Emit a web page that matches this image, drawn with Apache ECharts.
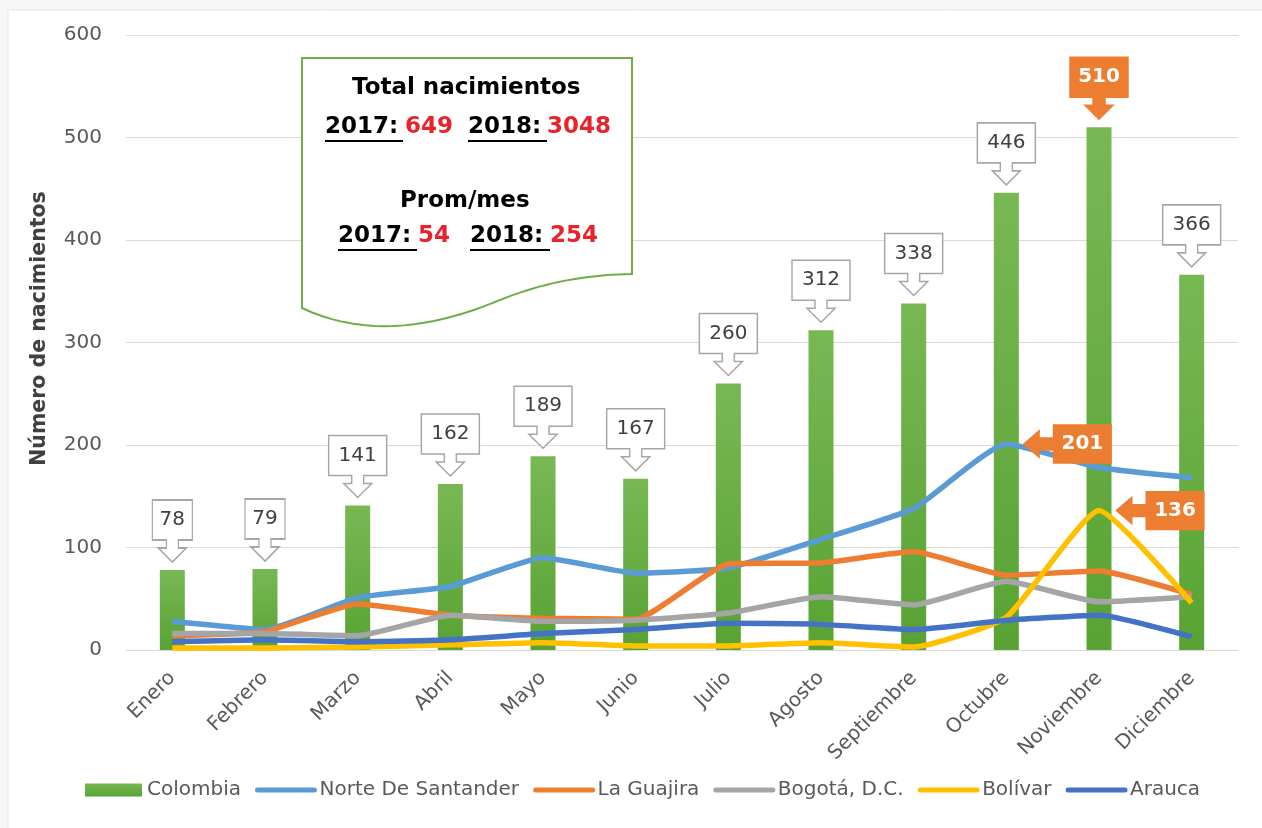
<!DOCTYPE html>
<html>
<head>
<meta charset="utf-8">
<script src="https://cdn.jsdelivr.net/npm/echarts@6/dist/echarts.min.js"></script>
<style>
  html, body { margin: 0; padding: 0; background: #f7f7f7; }
  #main { width: 1262px; height: 828px; }
</style>
</head>
<body>
<div id="main"></div>
<script>
const months = ['Enero', 'Febrero', 'Marzo', 'Abril', 'Mayo', 'Junio', 'Julio',
  'Agosto', 'Septiembre', 'Octubre', 'Noviembre', 'Diciembre'];
const colombia = [78, 79, 141, 162, 189, 167, 260, 312, 338, 446, 510, 366];
const norteSantander = [28, 20, 51, 62, 90, 75, 80, 108, 138, 201, 178, 168];
const laGuajira = [14, 18, 45, 34, 31, 30, 84, 85, 96, 73, 77, 54];
const bogota = [16, 16, 14, 34, 28, 29, 36, 52, 44, 67, 47, 52];
const bolivar = [2, 2, 3, 5, 7, 4, 4, 7, 3, 32, 136, 46];
const arauca = [8, 10, 8, 10, 16, 20, 26, 25, 20, 29, 34, 13];
const yTicks = { min: 0, max: 600, interval: 100 };

const FONT = 'DejaVu Sans';
const txtGray = '#595959';

// callout shapes
const downSmall = 'path://M0,0H40V40H26V48H34L20,62L6,48H14V40H0Z';
const downBig = 'path://M0,0H58V40H35V48H43L29,62L15,48H23V40H0Z';
const leftBox = 'path://M30,0H86V38H30V25H14V31L0,19L14,7V13H30Z';

const maxIdx = colombia.indexOf(Math.max(...colombia));
const barCallouts = colombia.map((v, i) => {
  const small = v < 100;
  const item = {
    coord: [months[i], v],
    value: v,
    symbol: small ? downSmall : downBig,
    symbolSize: small ? [40, 62] : [58, 62],
    symbolOffset: [0, -39],
  };
  if (i === maxIdx) {
    item.itemStyle = { color: '#ED7D31', borderColor: '#ED7D31' };
    item.label = { color: '#fff', fontWeight: 'bold' };
  }
  return item;
});

function orangeLeft() {
  return {
    symbol: leftBox,
    symbolSize: [86, 38],
    symbolOffset: [61, 0],
    itemStyle: { color: '#ED7D31', borderColor: '#ED7D31' },
    label: {
      show: true, position: 'inside', offset: [15, 0],
      color: '#fff', fontWeight: 'bold', fontSize: 20, fontFamily: FONT,
    },
    data: [{ type: 'max' }],
  };
}

function lineSeries(name, data, color, extra) {
  return Object.assign({
    name: name,
    type: 'line',
    data: data,
    smooth: 0.15,
    symbol: 'none',
    lineStyle: { width: 5.5, color: color },
    itemStyle: { color: color },
  }, extra || {});
}

function lineLegend(name) {
  return { name: name, itemStyle: { opacity: 0 }, lineStyle: { width: 5, cap: 'round' } };
}

// outline of the note box (wavy bottom edge)
function bez(p0, p1, p2, p3, n) {
  const pts = [];
  for (let k = 0; k <= n; k++) {
    const t = k / n, u = 1 - t;
    pts.push([
      u * u * u * p0[0] + 3 * u * u * t * p1[0] + 3 * u * t * t * p2[0] + t * t * t * p3[0],
      u * u * u * p0[1] + 3 * u * u * t * p1[1] + 3 * u * t * t * p2[1] + t * t * t * p3[1],
    ]);
  }
  return pts;
}
const notePoints = [[302, 58], [632, 58]]
  .concat(bez([632, 274], [585, 275], [545, 282], [500, 300], 20))
  .concat(bez([500, 300], [440, 325], [370, 340], [302, 308], 20));

const boldFont = 'bold 23px "DejaVu Sans"';
function noteText(x, y, text, fill) {
  return { type: 'text', z: 51, silent: true, x: x, y: y, style: { text: text, fill: fill, font: boldFont } };
}
function underline(x1, x2, y) {
  return { type: 'line', z: 51, silent: true, shape: { x1: x1, y1: y, x2: x2, y2: y }, style: { stroke: '#000', lineWidth: 2 } };
}

const chart = echarts.init(document.getElementById('main'));

const option = {
  animation: false,
  backgroundColor: '#f7f7f7',
  grid: { left: 126, right: 24, top: 35, bottom: 178 },
  legend: {
    left: 80,
    bottom: 23,
    itemWidth: 57,
    itemHeight: 13,
    itemGap: 14,
    textStyle: { color: txtGray, fontSize: 20, fontFamily: FONT },
    data: [
      { name: 'Colombia', icon: 'rect' },
      lineLegend('Norte De Santander'),
      lineLegend('La Guajira'),
      lineLegend('Bogotá, D.C.'),
      lineLegend('Bolívar'),
      lineLegend('Arauca'),
    ],
  },
  xAxis: {
    type: 'category',
    data: months,
    axisLine: { lineStyle: { color: '#D9D9D9', width: 1 } },
    axisTick: { show: false },
    axisLabel: {
      rotate: 45, margin: 25, color: txtGray, fontSize: 20, fontFamily: FONT,
    },
  },
  yAxis: {
    type: 'value',
    min: yTicks.min,
    max: yTicks.max,
    interval: yTicks.interval,
    name: 'Número de nacimientos',
    nameLocation: 'middle',
    nameGap: 76,
    nameTextStyle: {
      color: '#404040', fontSize: 20.5, fontWeight: 'bold', fontFamily: FONT,
      padding: [0, 0, 0, 28],
    },
    axisLine: { show: false },
    axisTick: { show: false },
    axisLabel: { margin: 24, color: txtGray, fontSize: 20, fontFamily: FONT },
    splitLine: { lineStyle: { color: '#D9D9D9', width: 1 } },
  },
  series: [
    {
      name: 'Colombia',
      type: 'bar',
      data: colombia,
      barWidth: 25,
      itemStyle: {
        color: new echarts.graphic.LinearGradient(0, 0, 0, 1, [
          { offset: 0, color: '#78B853' },
          { offset: 1, color: '#58A333' },
        ]),
      },
      markPoint: {
        symbolKeepAspect: false,
        itemStyle: { color: '#fff', borderColor: '#A6A6A6', borderWidth: 1.5 },
        label: {
          show: true, position: 'inside', offset: [0, -11],
          color: '#404040', fontSize: 20, fontFamily: FONT,
        },
        data: barCallouts,
      },
    },
    lineSeries('Norte De Santander', norteSantander, '#5B9BD5', { markPoint: orangeLeft() }),
    lineSeries('La Guajira', laGuajira, '#ED7D31'),
    lineSeries('Bogotá, D.C.', bogota, '#A5A5A5'),
    lineSeries('Bolívar', bolivar, '#FFC000', { markPoint: orangeLeft() }),
    lineSeries('Arauca', arauca, '#4472C4'),
  ],
  graphic: [
    {
      type: 'rect', z: -100, silent: true,
      shape: { x: 8, y: 10, width: 1262, height: 830 },
      style: { fill: '#fff', stroke: '#E3E3E3', lineWidth: 1 },
    },
    {
      type: 'polygon', z: 50, silent: true,
      shape: { points: notePoints },
      style: { fill: '#fff', stroke: '#70AD47', lineWidth: 2 },
    },
    noteText(352, 77, 'Total nacimientos', '#000'),
    noteText(325, 116, '2017:', '#000'),
    noteText(405, 116, '649', '#E8232A'),
    noteText(468, 116, '2018:', '#000'),
    noteText(547, 116, '3048', '#E8232A'),
    underline(325, 403, 141),
    underline(468, 547, 141),
    noteText(400, 190, 'Prom/mes', '#000'),
    noteText(338, 225, '2017:', '#000'),
    noteText(418, 225, '54', '#E8232A'),
    noteText(470, 225, '2018:', '#000'),
    noteText(550, 225, '254', '#E8232A'),
    underline(338, 417, 250),
    underline(470, 550, 250),
  ],
};

chart.setOption(option);
</script>
</body>
</html>
